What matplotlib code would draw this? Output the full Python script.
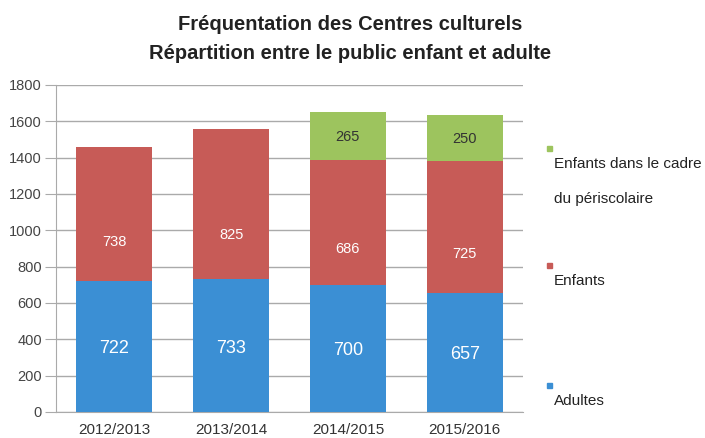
import matplotlib
matplotlib.use("Agg")
import matplotlib.pyplot as plt
import numpy as np

plt.rcParams['font.family'] = ['Liberation Sans', 'DejaVu Sans']

saisons = ["2012/2013", "2013/2014", "2014/2015", "2015/2016"]
adultes = [722, 733, 700, 657]
enfants = [738, 825, 686, 725]
periscolaire = [0, 0, 265, 250]

bleu = "#3b8fd4"
rouge = "#c75b57"
vert = "#9dc45e"

fig = plt.figure(figsize=(7.05, 4.38), dpi=100)
ax = fig.add_axes([0.0794, 0.0594, 0.6626, 0.747])

x = np.arange(len(saisons))
w = 0.65
ad = np.array(adultes)
en = np.array(enfants)
pe = np.array(periscolaire)

ax.bar(x, ad, w, color=bleu, zorder=3)
ax.bar(x, en, w, bottom=ad, color=rouge, zorder=3)
ax.bar(x, pe, w, bottom=ad + en, color=vert, zorder=3)

for i in range(len(x)):
    ax.text(x[i], ad[i] * 0.48, str(ad[i]), ha='center', va='center',
            color='white', fontsize=13)
    ax.text(x[i], ad[i] + en[i] * 0.29, str(en[i]), ha='center', va='center',
            color='white', fontsize=10.5)
    if pe[i] > 0:
        ax.text(x[i], ad[i] + en[i] + pe[i] * 0.47, str(pe[i]), ha='center', va='center',
                color='#333333', fontsize=10.5)

ax.set_xlim(-0.5, 3.5)
ax.set_ylim(0, 1800)
ax.set_yticks(range(0, 1801, 200))
ax.set_xticks(x)
ax.set_xticklabels(saisons)
ax.yaxis.grid(True, color='#aaaaaa', linewidth=1, zorder=0)
ax.tick_params(axis='y', length=8, color='#aaaaaa', labelsize=10.5, labelcolor='#444444', pad=2)
ax.tick_params(axis='x', length=0, labelsize=11, labelcolor='#333333', pad=8)
for s in ['top', 'right']:
    ax.spines[s].set_visible(False)
for s in ['left', 'bottom']:
    ax.spines[s].set_color('#aaaaaa')

fig.text(0.497, 0.945, "Fréquentation des Centres culturels", ha='center', va='center',
         fontsize=14.5, fontweight='bold', color='#222222')
fig.text(0.497, 0.878, "Répartition entre le public enfant et adulte", ha='center', va='center',
         fontsize=14.5, fontweight='bold', color='#222222')

# legende
leg = [(vert, 148, ["Enfants dans le cadre", "du périscolaire"]),
       (rouge, 265, ["Enfants"]),
       (bleu, 385, ["Adultes"])]
for col, ypx, lignes in leg:
    fig.patches.append(plt.Rectangle((547 / 705, 1 - (ypx + 3) / 438), 5 / 705, 5 / 438,
                                     transform=fig.transFigure, color=col))
    for k, t in enumerate(lignes):
        fig.text(554 / 705, 1 - (ypx + 16 + k * 35) / 438, t, ha='left', va='center',
                 fontsize=11, color='#222222')

fig.savefig("out.png", dpi=100, facecolor='white')
